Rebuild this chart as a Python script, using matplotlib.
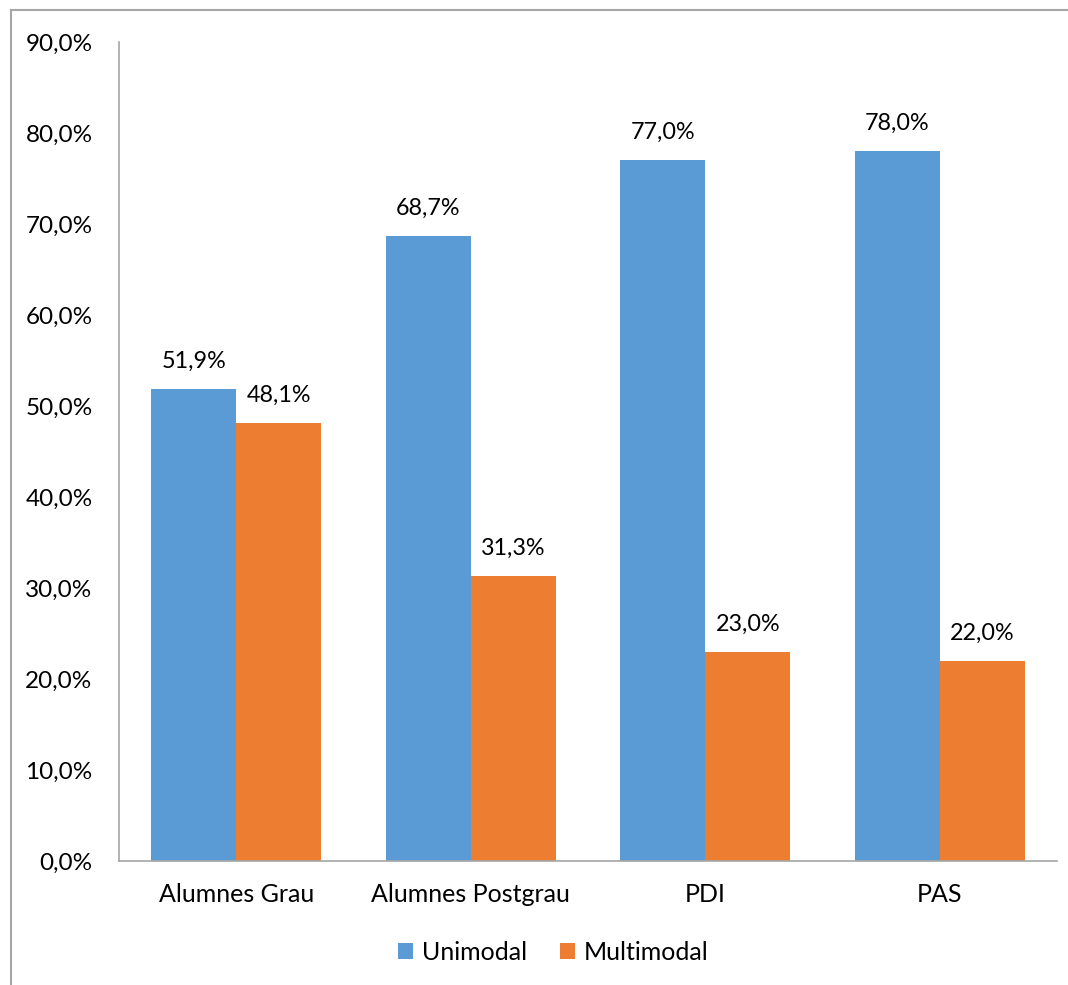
import numpy as np
import matplotlib.pyplot as plt
from matplotlib.lines import Line2D

# dades
categories = ['Alumnes Grau', 'Alumnes Postgrau', 'PDI', 'PAS']
unimodal = [51.9, 68.7, 77.0, 78.0]
multimodal = [48.1, 31.3, 23.0, 22.0]

blue = '#5B9BD5'
orange = '#ED7D31'
plt.rcParams['font.family'] = ['Lato', 'DejaVu Sans']

fig = plt.figure(figsize=(10.68, 9.85), dpi=100)
ax = fig.add_axes([0.1114, 0.1259, 0.8783, 0.8315])

x = np.arange(len(categories))
w = 0.363
b1 = ax.bar(x - w / 2, unimodal, w, color=blue, label='Unimodal')
b2 = ax.bar(x + w / 2, multimodal, w, color=orange, label='Multimodal')

# etiquetes sobre les barres
for bars in (b1, b2):
    for r in bars:
        v = r.get_height()
        ax.annotate(f'{v:.1f}%'.replace('.', ','),
                    (r.get_x() + r.get_width() / 2, v),
                    xytext=(0, 20), textcoords='offset points',
                    ha='center', va='center', fontsize=16.8)

ax.set_xlim(-0.5, len(categories) - 0.5)
ax.set_ylim(0, 90)
ax.set_yticks(np.arange(0, 91, 10))
ax.set_yticklabels([f'{t:.1f}%'.replace('.', ',') for t in np.arange(0, 91, 10)])
ax.set_xticks(x)
ax.set_xticklabels(categories, fontsize=18)
ax.tick_params(axis='both', length=0)
ax.tick_params(axis='y', pad=19, labelsize=17.5)
ax.tick_params(axis='x', pad=16)

for s in ['top', 'right']:
    ax.spines[s].set_visible(False)
for s in ['left', 'bottom']:
    ax.spines[s].set_color('#A6A6A6')
    ax.spines[s].set_linewidth(1.2)

ax.legend(loc='center', bbox_to_anchor=(0.463, -0.112), ncol=2, frameon=False,
          fontsize=18, handlelength=0.6, handleheight=0.6, handletextpad=0.35,
          columnspacing=1.3)

# vora del gràfic (només es veu la part superior i l'esquerra)
fig.add_artist(Line2D([0.0103, 0.0103], [0, 0.9898], transform=fig.transFigure,
                      color='#A6A6A6', lw=1.5))
fig.add_artist(Line2D([0.0103, 1.0], [0.9898, 0.9898], transform=fig.transFigure,
                      color='#A6A6A6', lw=1.5))

fig.savefig('out.png', dpi=100)
